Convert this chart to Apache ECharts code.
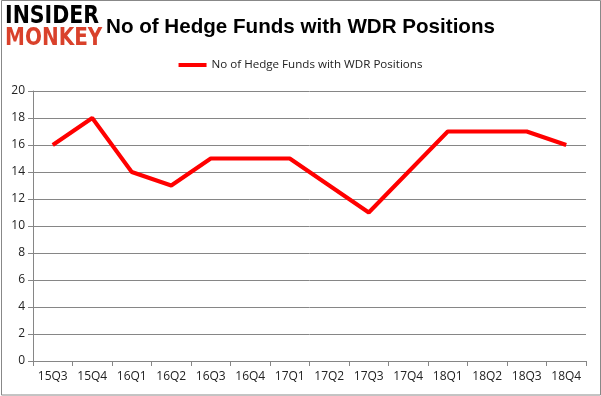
<!DOCTYPE html>
<html><head><meta charset="utf-8">
<script src="https://cdn.jsdelivr.net/npm/echarts@6/dist/echarts.min.js"></script>
<style>html,body{margin:0;padding:0;background:#fff}#c{width:601px;height:396px}</style>
</head><body><div id="c"></div>
<script>
const categories = ['15Q3','15Q4','16Q1','16Q2','16Q3','16Q4','17Q1','17Q2','17Q3','17Q4','18Q1','18Q2','18Q3','18Q4'];
const hedgeFunds = [16,18,14,13,15,15,15,13,11,14,17,17,17,16];
const seriesName = 'No of Hedge Funds with WDR Positions';
const titleText = 'No of Hedge Funds with WDR Positions';

const chart = echarts.init(document.getElementById('c'), null, {renderer:'canvas'});
const font = 'Open Sans, Liberation Sans, sans-serif';
chart.setOption({
  animation:false,
  backgroundColor:'#fff',
  title:{text:titleText,left:'center',top:12,textStyle:{fontFamily:'Liberation Sans',fontWeight:'bold',fontSize:20.6,color:'#000'}},
  legend:{top:54,left:'center',itemWidth:28,itemHeight:4,icon:'rect',itemGap:5,
    textStyle:{fontFamily:font,fontSize:11.6,color:'#222'},data:[seriesName]},
  grid:{left:33,right:15,top:91,bottom:35},
  xAxis:{type:'category',data:categories,boundaryGap:true,
    axisLine:{lineStyle:{color:'#868686',width:1}},
    axisTick:{show:true,length:5,alignWithLabel:false,lineStyle:{color:'#868686'}},
    axisLabel:{fontFamily:font,fontSize:12,color:'#222',margin:10}},
  yAxis:{type:'value',min:0,max:20,interval:2,
    axisLine:{show:true,lineStyle:{color:'#868686'}},
    axisTick:{show:true,length:5,lineStyle:{color:'#868686'}},
    splitLine:{lineStyle:{color:'#868686',width:1}},
    axisLabel:{fontFamily:font,fontSize:12,color:'#222',margin:8}},
  series:[{name:seriesName,type:'line',data:hedgeFunds,symbol:'none',
    lineStyle:{color:'#ff0000',width:4},itemStyle:{color:'#ff0000'}}],
  graphic:[
    {type:'rect',shape:{x:1.5,y:0.5,width:599,height:394.5},style:{fill:'none',stroke:'#888',lineWidth:1},silent:true},
    {type:'text',left:5,top:4,style:{text:'INSIDER',font:'900 25px "DejaVu Sans"',fill:'#000'},scaleX:0.82,scaleY:1},
    {type:'text',left:5,top:26,style:{text:'MONKEY',font:'900 25px "DejaVu Sans"',fill:'#d9412b'},scaleX:0.8,scaleY:1}
  ]
});
</script></body></html>
